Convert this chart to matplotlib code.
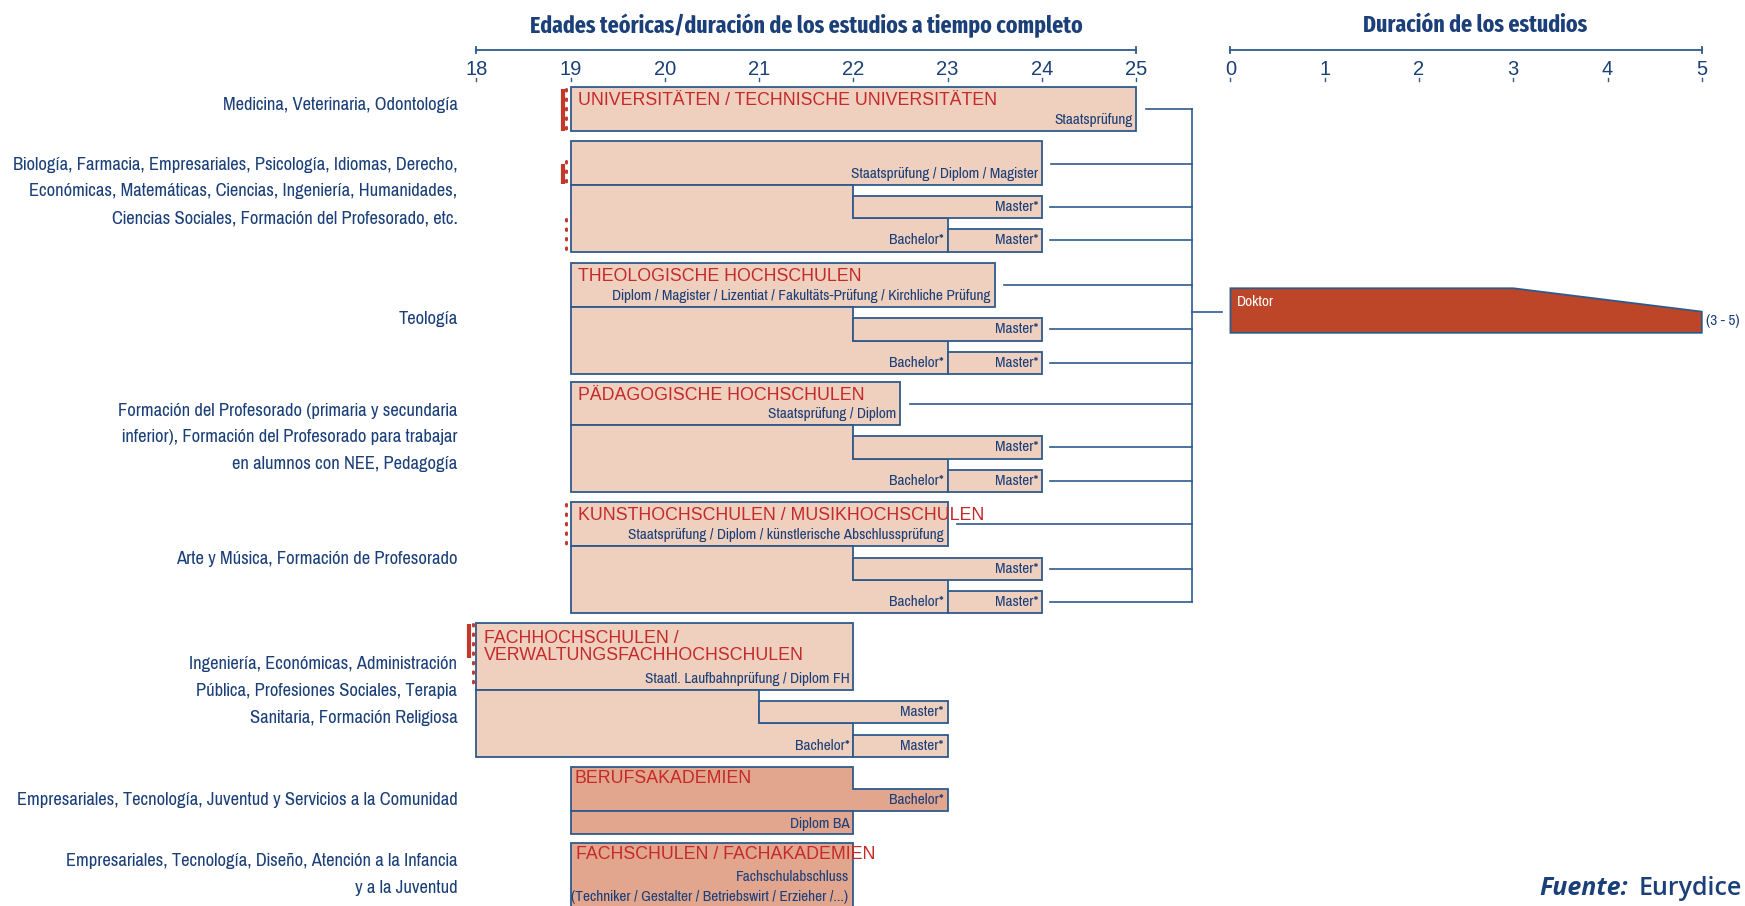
import numpy as np
import matplotlib
matplotlib.use("Agg")
import matplotlib.pyplot as plt
from matplotlib import font_manager
from matplotlib.font_manager import FontProperties
from matplotlib.patches import Polygon

# ---------------- data ----------------
fields = [
    ["Medicina, Veterinaria, Odontología"],
    ["Biología, Farmacia, Empresariales, Psicología, Idiomas, Derecho,",
     "Económicas, Matemáticas, Ciencias, Ingeniería, Humanidades,",
     "Ciencias Sociales, Formación del Profesorado, etc."],
    ["Teología"],
    ["Formación del Profesorado (primaria y secundaria",
     "inferior), Formación del Profesorado para trabajar",
     "en alumnos con NEE, Pedagogía"],
    ["Arte y Música, Formación de Profesorado"],
    ["Ingeniería, Económicas, Administración",
     "Pública, Profesiones Sociales, Terapia",
     "Sanitaria, Formación Religiosa"],
    ["Empresariales, Tecnología, Juventud y Servicios a la Comunidad"],
    ["Empresariales, Tecnología, Diseño, Atención a la Infancia",
     "y a la Juventud"],
]
institutions = ["UNIVERSITÄTEN / TECHNISCHE UNIVERSITÄTEN", "",
                "THEOLOGISCHE HOCHSCHULEN", "PÄDAGOGISCHE HOCHSCHULEN",
                "KUNSTHOCHSCHULEN / MUSIKHOCHSCHULEN",
                "FACHHOCHSCHULEN /\nVERWALTUNGSFACHHOCHSCHULEN",
                "BERUFSAKADEMIEN", "FACHSCHULEN / FACHAKADEMIEN"]
diplomas = ["Staatsprüfung", "Staatsprüfung / Diplom / Magister",
            "Diplom / Magister / Lizentiat / Fakultäts-Prüfung / Kirchliche Prüfung",
            "Staatsprüfung / Diplom",
            "Staatsprüfung / Diplom / künstlerische Abschlussprüfung",
            "Staatl. Laufbahnprüfung / Diplom FH", "Diplom BA",
            "Fachschulabschluss"]
diploma_note = "(Techniker / Gestalter / Betriebswirt / Erzieher /...)"
start_age = [19, 19, 19, 19, 19, 18, 19, 19]
diploma_end = [25, 24, 23.5, 22.5, 23, 22, 22, 22]
short_bach_end = [np.nan, 22, 22, 22, 22, 21, np.nan, np.nan]
long_bach_end = [np.nan, 23, 23, 23, 23, 22, 23, np.nan]
master_end = [np.nan, 24, 24, 24, 24, 23, np.nan, np.nan]
linked_to_doctorate = [True, True, True, True, True, False, False, False]
doktor_min, doktor_max = 3, 5
age_ticks = np.arange(18, 26)
dur_ticks = np.arange(0, 6)
main_title = "Edades teóricas/duración de los estudios a tiempo completo"
side_title = "Duración de los estudios"

# ---------------- layout (vertical units = reference pixels) ----------------
top = [78, 127, 236, 343, 451, 560, 689, 757]
head_h = [40, 39, 40, 39, 40, 60, 40, 64]
dur_offset = 26.0          # duration 0 sits one year right of age 25
hub_x = 25.59
x_left = 12.948
px_per_year = 84.71

peach = "#efcfbe"
dark_peach = "#e2a58e"
edge = "#2e5a8c"
red = "#c42a2a"
navy = "#1b3f78"
mark_red = "#c0392b"
sans = ["Liberation Sans", "DejaVu Sans"]

fig = plt.figure(figsize=(17.45, 9.06), dpi=100)
ax = fig.add_axes([0, 0, 1, 1])
ax.set_xlim(x_left, x_left + 1568 / px_per_year)
ax.set_ylim(814, 0)
ax.axis("off")
renderer = fig.canvas.get_renderer()


def wnum(w):
    return w if isinstance(w, int) else font_manager.weight_dict.get(w, 400)


def text_width(fp, s):
    t = fig.text(0, 0, s, fontproperties=fp)
    w = t.get_window_extent(renderer).width
    t.remove()
    return w


def narrow_font(sample, target_px, target_pt, weight=400):
    """Condensed face whose size, fitted to the sample width, is closest to target_pt."""
    best, best_err = None, 1e9
    seen = set()
    for f in font_manager.fontManager.ttflist:
        st = str(f.stretch)
        if not ("Condensed" in f.name or "Narrow" in f.name or "condensed" in st):
            continue
        if f.style != "normal" or abs(wnum(f.weight) - weight) > 150 or f.fname in seen:
            continue
        seen.add(f.fname)
        fp = FontProperties(fname=f.fname, size=10)
        size = 10 * target_px / text_width(fp, sample)
        err = abs(size - target_pt) + abs(wnum(f.weight) - weight) / 100
        if err < best_err:
            best, best_err = FontProperties(fname=f.fname, size=size), err
    if best is None:
        fp = FontProperties(family=["Roboto", "DejaVu Sans"],
                            weight="bold" if weight >= 600 else "normal", size=10)
        fp.set_size(10 * target_px / text_width(fp, sample))
        best = fp
    return best


field_fp = narrow_font(fields[1][0], 444, 14.5)
label_fp = narrow_font(diplomas[2], 379, 12)
head_fp = narrow_font(main_title, 552, 17, 700)


def poly(pts, fc=peach, z=2):
    ax.add_patch(Polygon(pts, closed=True, fc=fc, ec=edge, lw=1.3, zorder=z))


def box(x0, x1, y0, y1, fc=peach, z=2):
    poly([(x0, y0), (x1, y0), (x1, y1), (x0, y1)], fc, z)


def right_label(x, y, s):
    ax.text(x - 0.04, y, s, ha="right", va="center", color=navy,
            fontproperties=label_fp, zorder=5)


def title_label(x, y, s):
    ax.text(x + 0.08, y, s, ha="left", va="center", color=red,
            fontsize=12.8, family=sans, zorder=5, linespacing=1.0)


# headers and axes
ax.text(21.5, 23, main_title, ha="center", va="center", color=navy,
        fontproperties=head_fp)
ax.text(dur_offset + 2.6, 23, side_title, ha="center", va="center", color=navy,
        fontproperties=head_fp)

for x0, ticks in [(0, age_ticks), (dur_offset, dur_ticks)]:
    xs = x0 + ticks
    ax.plot([xs[0], xs[-1]], [45, 45], color=edge, lw=1.3)
    ax.plot([xs[0], xs[0]], [42, 48], color=edge, lw=1.3)
    ax.plot([xs[-1], xs[-1]], [42, 48], color=edge, lw=1.3)
    for xv, t in zip(xs, ticks):
        ax.text(xv, 62, str(t), ha="center", va="center", color=navy,
                fontsize=14.5, family=sans)
        ax.plot([xv, xv], [70, 73], color=edge, lw=1)

# programmes
hub_ys = []
for i in range(8):
    s, d = start_age[i], diploma_end[i]
    y0 = top[i]
    y1 = y0 + head_h[i]
    fc = dark_peach if i >= 6 else peach

    if i == 6:
        # Berufsakademien: head with a bachelor tail, Diplom BA below
        b = long_bach_end[i]
        poly([(s, y0), (d, y0), (d, y0 + 20), (b, y0 + 20), (b, y1), (s, y1)], fc)
        right_label(b, y0 + 30, "Bachelor*")
        box(s, d, y1, y1 + 20, fc)
        right_label(d, y1 + 11, diplomas[i])
        ax.text(s + 0.04, y0 + 10, institutions[i], ha="left", va="center",
                color=red, fontsize=12.8, family=sans, zorder=5)
    elif i == 7:
        box(s, d, y0, y1, fc)
        ax.text(s + 0.06, y0 + 11, institutions[i], ha="left", va="center",
                color=red, fontsize=12.8, family=sans, zorder=5)
        right_label(d, y0 + 31, diplomas[i])
        ax.text(s, y0 + 49, diploma_note, ha="left", va="center", color=navy,
                fontproperties=label_fp, zorder=5)
    else:
        box(s, d, y0, y1)
        if institutions[i]:
            ty = y0 + 12 if "\n" not in institutions[i] else y0 + 21
            title_label(s, ty, institutions[i])
        right_label(d, y1 - 10, diplomas[i])
        if linked_to_doctorate[i]:
            hy = y0 + 20
            ax.plot([d + 0.1, hub_x], [hy, hy], color=edge, lw=1.2)
            hub_ys.append(hy)

    if not np.isnan(master_end[i]) and i < 6:
        sb, lb, me = short_bach_end[i], long_bach_end[i], master_end[i]
        r1 = (y1 + 10, y1 + 30)
        r2 = (y1 + 40, y1 + 60)
        poly([(s, y1), (sb, y1), (sb, r1[1]), (lb, r1[1]), (lb, r2[1]), (s, r2[1])])
        box(sb, me, r1[0], r1[1])
        box(lb, me, r2[0], r2[1])
        right_label(lb, sum(r2) / 2, "Bachelor*")
        right_label(me, sum(r1) / 2, "Master*")
        right_label(me, sum(r2) / 2, "Master*")
        if linked_to_doctorate[i]:
            for r in (r1, r2):
                ax.plot([me + 0.09, hub_x], [sum(r) / 2] * 2, color=edge, lw=1.2)
                hub_ys.append(sum(r) / 2)

# hub and doctorate
ax.plot([hub_x, hub_x], [min(hub_ys), max(hub_ys)], color=edge, lw=1.2)
ax.plot([hub_x, dur_offset - 0.09], [280, 280], color=edge, lw=1.2)
poly([(dur_offset, 259), (dur_offset + doktor_min, 259),
      (dur_offset + doktor_max, 280), (dur_offset + doktor_max, 299),
      (dur_offset, 299)], fc="#bd4629")
ax.text(dur_offset + 0.07, 271, "Doktor", ha="left", va="center", color="white",
        fontproperties=label_fp, zorder=5)
ax.text(dur_offset + doktor_max + 0.04, 288, "(3 - 5)", ha="left", va="center",
        color=navy, fontproperties=label_fp)

# access markers (solid and dotted red strokes)
markers = [  # (x, y0, y1, style)
    (18.92, 80, 118, "solid"), (18.956, 80, 118, "dot"),
    (18.92, 147, 165, "solid"), (18.956, 145, 166, "dot"),
    (18.956, 197, 227, "dot"), (18.956, 453, 490, "dot"),
    (17.92, 561, 591, "solid"), (17.965, 561, 620, "dot"),
]
for mx, m0, m1, st in markers:
    if st == "solid":
        ax.plot([mx, mx], [m0, m1], color=mark_red, lw=3, solid_capstyle="butt")
    else:
        ax.plot([mx, mx], [m0, m1], color=mark_red, lw=2.2,
                linestyle=(0, (0.5, 2.6)), dash_capstyle="round")

# field labels
centers = [94, 172, 287, 393, 502, 621, 719, 786]
for c, lines in zip(centers, fields):
    n = len(lines)
    for k, line in enumerate(lines):
        ax.text(17.80, c + (k - (n - 1) / 2) * 24, line, ha="right", va="center",
                color=navy, fontproperties=field_fp)

# source
src_font = ["Open Sans", "DejaVu Sans"]
ax.text(x_left + 1383 / px_per_year, 798, "Fuente:", ha="left", va="center",
        color=navy, fontsize=18, style="italic", fontweight="bold", family=src_font)
ax.text(x_left + 1472 / px_per_year, 798, "Eurydice", ha="left", va="center",
        color=navy, fontsize=18, fontweight="semibold", family=src_font)

fig.savefig("out.png", dpi=100)
